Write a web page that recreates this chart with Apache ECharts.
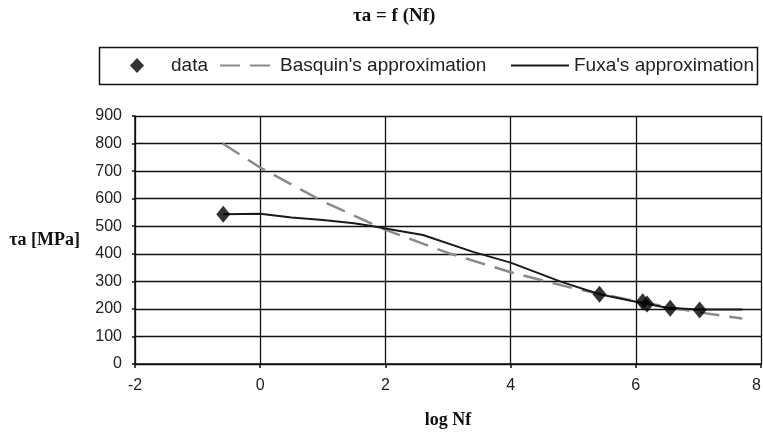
<!DOCTYPE html>
<html>
<head>
<meta charset="utf-8">
<script src="https://cdn.jsdelivr.net/npm/echarts@6/dist/echarts.min.js"></script>
<style>html,body{margin:0;padding:0;background:#fff;}#c{width:763px;height:432px;}</style>
</head>
<body>
<div id="c"></div>
<script>
// Measured data points (log Nf, tau_a in MPa)
const dataX = [-0.59, 5.42, 6.11, 6.18, 6.55, 7.02];
const dataY = [543, 253, 226, 218, 202, 196];
// Basquin's approximation
const basquinX = [-0.6, 0, 1, 2, 3, 4, 5, 6, 7, 7.7];
const basquinY = [800, 713, 590, 487, 403, 333, 275, 228, 188, 165];
// Fuxa's approximation
const fuxaX = [-0.59, 0, 0.5, 1, 1.5, 1.8, 2, 2.6, 3.4, 4, 4.8, 5.42, 6, 6.5, 7, 7.7];
const fuxaY = [543, 545, 532, 523, 511, 500, 492, 468, 407, 368, 299, 253, 226, 204, 198, 198];
// Axis ticks
const xTicks = {min: -2, max: 8, interval: 2};
const yTicks = {min: 0, max: 900, interval: 100};

const pairs = (xs, ys) => xs.map((x, i) => [x, ys[i]]);
const serif = '"Liberation Serif", "DejaVu Serif", serif';
const sans = '"Liberation Sans", Arial, sans-serif';
const legendText = {fontFamily: sans, fontSize: 19, color: '#222'};

const chart = echarts.init(document.getElementById('c'), null, {renderer: 'canvas'});
chart.setOption({
  animation: false,
  backgroundColor: '#fff',
  title: {
    text: 'τa = f (Nf)', left: 353, top: 7, padding: 0,
    textStyle: {fontFamily: serif, fontWeight: 'bold', fontSize: 19, color: '#111'}
  },
  graphic: [{
    type: 'rect', left: 97, top: 45,
    shape: {width: 658, height: 37},
    style: {fill: 'none', stroke: '#111', lineWidth: 1.5},
    silent: true
  }],
  legend: [
    {data: [{name: 'data', icon: 'diamond'}], left: 130, top: 56, padding: 0,
     itemWidth: 14, itemHeight: 15,
     textStyle: Object.assign({padding: [0, 0, 0, 22]}, legendText)},
    {data: ["Basquin's approximation"], left: 219, top: 56, padding: 0,
     itemWidth: 55, itemHeight: 14, itemStyle: {opacity: 0},
     textStyle: legendText},
    {data: ["Fuxa's approximation"], left: 510, top: 56, padding: 0,
     itemWidth: 58, itemHeight: 14, itemStyle: {opacity: 0},
     textStyle: legendText}
  ],
  grid: {left: 135, top: 116, right: 2, bottom: 68, containLabel: false, outerBoundsMode: 'none'},
  xAxis: {
    type: 'value', min: xTicks.min, max: xTicks.max, interval: xTicks.interval,
    name: 'log Nf', nameLocation: 'middle', nameGap: 47,
    nameTextStyle: {fontFamily: serif, fontWeight: 'bold', fontSize: 18, color: '#111'},
    axisLine: {show: true, onZero: false, lineStyle: {color: '#111', width: 1.5}},
    axisTick: {show: true, length: 4, lineStyle: {color: '#111', width: 1.5}},
    axisLabel: {fontFamily: sans, fontSize: 16, color: '#222', margin: 14, alignMaxLabel: 'right'},
    splitLine: {show: true, lineStyle: {color: '#111', width: 1.3}}
  },
  yAxis: {
    type: 'value', min: yTicks.min, max: yTicks.max, interval: yTicks.interval,
    name: 'τa [MPa]', nameLocation: 'middle', nameRotate: 0, nameGap: 55,
    nameTextStyle: {fontFamily: serif, fontWeight: 'bold', fontSize: 18, color: '#111'},
    axisLine: {show: true, onZero: false, lineStyle: {color: '#111', width: 1.5}},
    axisTick: {show: true, length: 3, lineStyle: {color: '#111', width: 1.5}},
    axisLabel: {fontFamily: sans, fontSize: 16, color: '#222', margin: 13},
    splitLine: {show: true, lineStyle: {color: '#111', width: 1.3}}
  },
  series: [
    {
      name: "Basquin's approximation", type: 'line', data: pairs(basquinX, basquinY),
      symbol: 'none', smooth: false, z: 2,
      lineStyle: {color: '#8a8a8a', width: 2.5, type: [20, 10]},
      itemStyle: {color: '#8a8a8a'}
    },
    {
      name: "Fuxa's approximation", type: 'line', data: pairs(fuxaX, fuxaY),
      symbol: 'none', smooth: false, z: 3,
      lineStyle: {color: '#1a1a1a', width: 2},
      itemStyle: {color: '#1a1a1a'}
    },
    {
      name: 'data', type: 'scatter', data: pairs(dataX, dataY),
      symbol: 'diamond', symbolSize: [14, 17], z: 4,
      itemStyle: {color: '#000'}
    }
  ]
});
</script>
</body>
</html>
